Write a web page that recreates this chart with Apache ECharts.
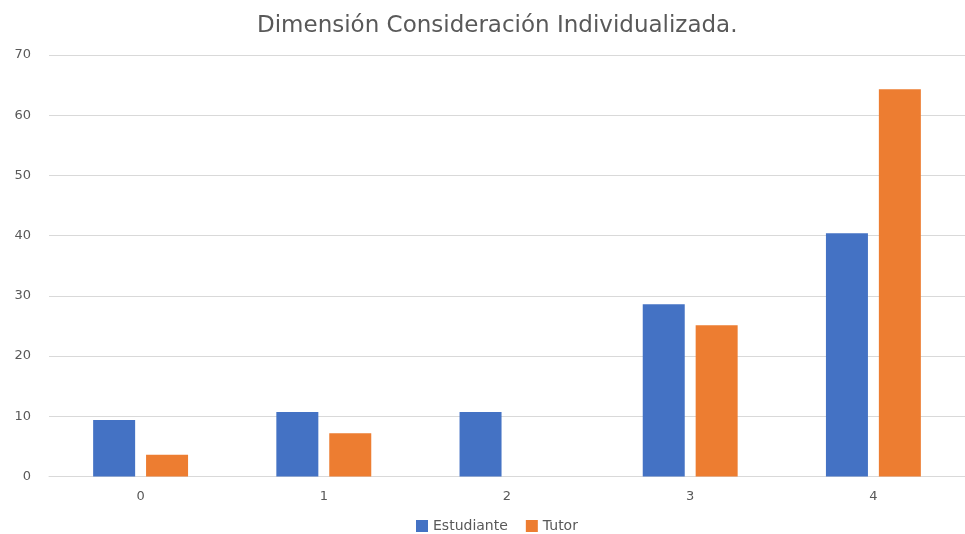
<!DOCTYPE html>
<html>
<head>
<meta charset="utf-8">
<script src="https://cdn.jsdelivr.net/npm/echarts@6/dist/echarts.min.js"></script>
<style>html,body{margin:0;padding:0;background:#fff}#c{width:965px;height:534px}</style>
</head>
<body>
<div id="c"></div>
<script>
const titleText = 'Dimensión Consideración Individualizada.';
const categories = ['0', '1', '2', '3', '4'];
const estudiante = [9.4, 10.7, 10.7, 28.6, 40.4];
const tutor = [3.6, 7.2, 0, 25.1, 64.3];
const seriesNames = ['Estudiante', 'Tutor'];

const chart = echarts.init(document.getElementById('c'));
const font = 'DejaVu Sans';
chart.setOption({
  animation: false,
  backgroundColor: '#fff',
  title: {
    text: titleText, left: 252, top: 10,
    textStyle: { fontFamily: font, fontSize: 23, fontWeight: 'normal', color: '#595959' }
  },
  legend: {
    data: seriesNames, bottom: -4, left: 411,
    itemWidth: 12, itemHeight: 12, itemGap: 18, icon: 'rect',
    textStyle: { fontFamily: font, fontSize: 14, color: '#595959' }
  },
  grid: { left: 49, width: 925, top: 55, bottom: 57.5, containLabel: false },
  xAxis: {
    type: 'category', data: categories,
    axisLine: { lineStyle: { color: '#D9D9D9', width: 1 } },
    axisTick: { show: false },
    axisLabel: { fontFamily: font, fontSize: 13, color: '#595959', margin: 14 }
  },
  yAxis: {
    type: 'value', min: 0, max: 70, interval: 10,
    axisLine: { show: false }, axisTick: { show: false },
    splitLine: { lineStyle: { color: '#D9D9D9', width: 1 } },
    axisLabel: { fontFamily: font, fontSize: 13, color: '#595959', margin: 18 }
  },
  series: [
    { name: seriesNames[0], type: 'bar', data: estudiante, barWidth: 42, barGap: '26%',
      itemStyle: { color: '#4472C4' } },
    { name: seriesNames[1], type: 'bar', data: tutor, barWidth: 42, barGap: '26%',
      itemStyle: { color: '#ED7D31' } }
  ]
});
</script>
</body>
</html>
